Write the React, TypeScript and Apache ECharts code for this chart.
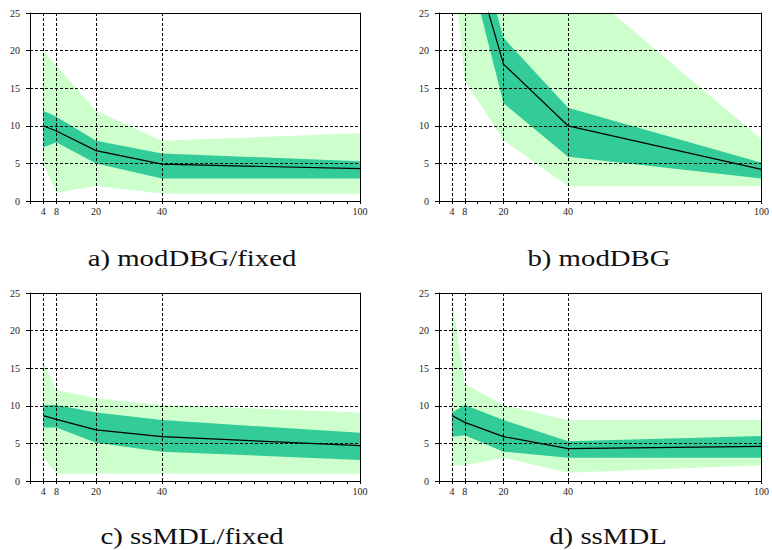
import React, { useEffect, useRef } from 'react';
import * as echarts from 'echarts';

// x positions of the measurements
const X = [4, 8, 20, 40, 100];
const xLabelValues = [4, 8, 20, 40, 100];
const gridXValues = [4, 8, 20, 40];
const gridYValues = [5, 10, 15, 20];

const captions = ['a) modDBG/fixed', 'b) modDBG', 'c) ssMDL/fixed', 'd) ssMDL'];

// a) modDBG/fixed
const aLightLo = [5, 1.1, 2, 1, 1];
const aLightHi = [20, 18, 12, 8, 9];
const aDarkLo = [7.1, 7.8, 5, 3, 3];
const aDarkHi = [12, 11.2, 8, 6.3, 5.3];
const aMedian = [10, 9.3, 6.7, 4.9, 4.3];

// b) modDBG (values at small x run above the visible 25)
const bLightLo = [34, 16, 8.1, 2, 2];
const bLightHi = [60, 55, 45, 30, 8.2];
const bDarkLo = [42, 33.3, 13, 5.9, 3];
const bDarkHi = [50, 40.6, 21.7, 12.4, 5.1];
const bMedian = [46, 35.9, 18.2, 10, 4.2];

// c) ssMDL/fixed
const cLightLo = [3.1, 1, 1, 1, 1];
const cLightHi = [15.9, 12.1, 11, 10.1, 9.1];
const cDarkLo = [7.1, 7.1, 5.1, 3.9, 2.8];
const cDarkHi = [10.1, 10.1, 9.1, 8.1, 6.4];
const cMedian = [8.7, 8.2, 6.8, 5.9, 4.7];

// d) ssMDL
const dLightLo = [2.1, 2.1, 3.1, 1.1, 2.1];
const dLightHi = [24.4, 12.9, 10.1, 8.1, 8.1];
const dDarkLo = [5.9, 6.1, 3.9, 3.1, 3.1];
const dDarkHi = [9.1, 10.1, 8.1, 5.3, 6.0];
const dMedian = [8.7, 7.8, 5.9, 4.3, 4.6];

const panels = [
  { lightLo: aLightLo, lightHi: aLightHi, darkLo: aDarkLo, darkHi: aDarkHi, median: aMedian },
  { lightLo: bLightLo, lightHi: bLightHi, darkLo: bDarkLo, darkHi: bDarkHi, median: bMedian },
  { lightLo: cLightLo, lightHi: cLightHi, darkLo: cDarkLo, darkHi: cDarkHi, median: cMedian },
  { lightLo: dLightLo, lightHi: dLightHi, darkLo: dDarkLo, darkHi: dDarkHi, median: dMedian },
];

const LIGHT = '#ccffcc';
const DARK = '#33cc99';
const FONT = 'Liberation Serif';

function bandSeries(lo: number[], hi: number[], color: string, xi: number, yi: number, z: number) {
  return {
    type: 'custom',
    xAxisIndex: xi,
    yAxisIndex: yi,
    silent: true,
    clip: true,
    z,
    data: [[X[0], lo[0]]],
    renderItem: (params: any, api: any) => {
      const upper = X.map((x, k) => api.coord([x, hi[k]]));
      const lower = X.map((x, k) => api.coord([x, lo[k]])).reverse();
      const cs = params.coordSys;
      return {
        type: 'group',
        clipPath: { type: 'rect', shape: { x: cs.x, y: cs.y, width: cs.width, height: cs.height } },
        children: [
          {
            type: 'polygon',
            shape: { points: upper.concat(lower) },
            style: { fill: color, stroke: 'none' },
          },
        ],
      };
    },
  };
}

export default function App() {
  const ref = useRef<HTMLDivElement>(null);

  useEffect(() => {
    if (!ref.current) return;
    const chart = echarts.init(ref.current, undefined, { renderer: 'svg' });

    const grids = [
      { left: 30, top: 13, width: 330, height: 188 },
      { left: 439, top: 13, width: 331, height: 188 },
      { left: 30, top: 293, width: 330, height: 188 },
      { left: 439, top: 293, width: 331, height: 188 },
    ];
    const captionPos = [
      { x: 192, y: 258 },
      { x: 599, y: 258 },
      { x: 192, y: 536 },
      { x: 608, y: 536 },
    ];

    const xAxis: any[] = [];
    const yAxis: any[] = [];
    const series: any[] = [];

    panels.forEach((p, i) => {
      xAxis.push({
        type: 'value', gridIndex: i, min: 0, max: 100, interval: 4, z: 10,
        axisLine: { show: true, onZero: false, lineStyle: { color: '#000', width: 1 } },
        axisTick: { show: true, length: 3, lineStyle: { color: '#000' } },
        axisLabel: {
          show: true, margin: 5, fontFamily: FONT, fontSize: 10, color: '#222',
          formatter: (v: number) => (xLabelValues.indexOf(v) >= 0 ? String(v) : ''),
        },
        splitLine: { show: false },
      });
      xAxis.push({
        type: 'value', gridIndex: i, min: 0, max: 100, position: 'top', z: 10,
        axisLine: { show: true, onZero: false, lineStyle: { color: '#000', width: 1 } },
        axisTick: { show: false }, axisLabel: { show: false }, splitLine: { show: false },
      });
      yAxis.push({
        type: 'value', gridIndex: i, min: 0, max: 25, interval: 5, z: 10,
        axisLine: { show: true, onZero: false, lineStyle: { color: '#000', width: 1 } },
        axisTick: { show: true, length: 4, lineStyle: { color: '#000' } },
        axisLabel: { show: true, margin: 10, fontFamily: FONT, fontSize: 10, color: '#222' },
        splitLine: { show: false },
      });
      yAxis.push({
        type: 'value', gridIndex: i, min: 0, max: 25, position: 'right', z: 10,
        axisLine: { show: true, onZero: false, lineStyle: { color: '#000', width: 1 } },
        axisTick: { show: false }, axisLabel: { show: false }, splitLine: { show: false },
      });

      const xi = 2 * i;
      const yi = 2 * i;
      series.push(bandSeries(p.lightLo, p.lightHi, LIGHT, xi, yi, 1));
      series.push(bandSeries(p.darkLo, p.darkHi, DARK, xi, yi, 2));
      series.push({
        type: 'line', name: `median${i}`, xAxisIndex: xi, yAxisIndex: yi, symbol: 'none',
        silent: true, z: 4, clip: true,
        lineStyle: { color: '#000', width: 1.2 },
        data: X.map((x, k) => [x, p.median[k]]),
        markLine: {
          silent: true, symbol: 'none', animation: false,
          label: { show: false },
          lineStyle: { color: '#000', type: [3, 2], width: 1 },
          data: [
            ...gridXValues.map((v) => ({ xAxis: v })),
            ...gridYValues.map((v) => ({ yAxis: v })),
          ],
        },
      });
    });

    chart.setOption({
      animation: false,
      backgroundColor: '#fff',
      grid: grids,
      xAxis,
      yAxis,
      series,
      graphic: captions.map((c, i) => ({
        type: 'text',
        x: captionPos[i].x,
        y: captionPos[i].y,
        scaleX: 1.2,
        style: {
          text: c,
          fontFamily: FONT,
          fontSize: 24,
          fill: '#111',
          align: 'center',
          verticalAlign: 'middle',
        },
      })),
    });

    return () => chart.dispose();
  }, []);

  return (
    <div
      ref={ref}
      style={{ position: 'fixed', left: 0, top: 0, width: 772, height: 550 }}
    />
  );
}
